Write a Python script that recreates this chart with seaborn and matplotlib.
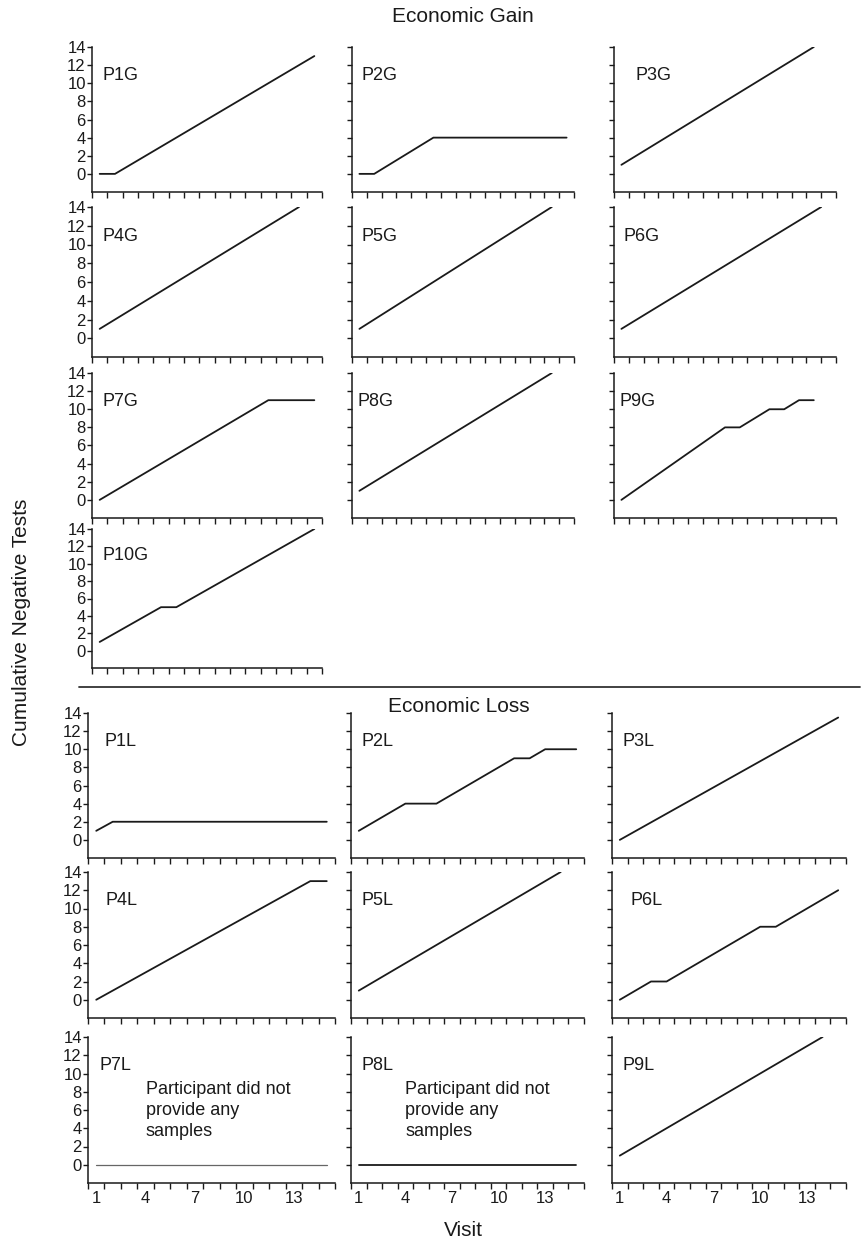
import matplotlib
matplotlib.use("Agg")
import numpy as np
import pandas as pd
import seaborn as sns
import matplotlib.pyplot as plt
from matplotlib.lines import Line2D

sns.set_style("ticks")
plt.rcParams["font.family"] = ["Liberation Sans", "DejaVu Sans"]

# breakpoints of each cumulative curve (visit, cumulative negative tests)
P1G_x, P1G_y = [1, 2, 15], [0, 0, 13]
P2G_x, P2G_y = [1, 2, 6, 15], [0, 0, 4, 4]
P3G_x, P3G_y = [1, 14], [1, 14]
P4G_x, P4G_y = [1, 14], [1, 14]
P5G_x, P5G_y = [1, 14], [1, 14]
P6G_x, P6G_y = [1, 14.5], [1, 14]
P7G_x, P7G_y = [1, 12, 15], [0, 11, 11]
P8G_x, P8G_y = [1, 14], [1, 14]
P9G_x, P9G_y = [1, 8, 9, 11, 12, 13, 14], [0, 8, 8, 10, 10, 11, 11]
P10G_x, P10G_y = [1, 5, 6, 15], [1, 5, 5, 14]

P1L_x, P1L_y = [1, 2, 15], [1, 2, 2]
P2L_x, P2L_y = [1, 4, 6, 11, 12, 13, 15], [1, 4, 4, 9, 9, 10, 10]
P3L_x, P3L_y = [1, 15], [0, 13.5]
P4L_x, P4L_y = [1, 14, 15], [0, 13, 13]
P5L_x, P5L_y = [1, 14], [1, 14]
P6L_x, P6L_y = [1, 3, 4, 10, 11, 15], [0, 2, 2, 8, 8, 12]
P7L_x, P7L_y = [1, 15], [0, 0]
P8L_x, P8L_y = [1, 15], [0, 0]
P9L_x, P9L_y = [1, 14], [1, 14]

gain_names = ["P1G", "P2G", "P3G", "P4G", "P5G", "P6G", "P7G", "P8G", "P9G", "P10G"]
loss_names = ["P1L", "P2L", "P3L", "P4L", "P5L", "P6L", "P7L", "P8L", "P9L"]
no_sample = ["P7L", "P8L"]
x_tick_labels = [1, 4, 7, 10, 13]
y_tick_values = [0, 2, 4, 6, 8, 10, 12, 14]

series = {n: (globals()[n + "_x"], globals()[n + "_y"]) for n in gain_names + loss_names}
rows = []
for name, (xs, ys) in series.items():
    for x, y in zip(xs, ys):
        rows.append({"panel": name, "Visit": x, "Tests": y})
df = pd.DataFrame(rows)

W, H = 863, 1244
fig = plt.figure(figsize=(W / 100, H / 100), dpi=100)


def px_axes(l, r, t, b):
    return fig.add_axes([l / W, 1 - b / H, (r - l) / W, (b - t) / H])


gain_cols = [(92, 322), (352, 574), (614, 836)]
gain_rows = [(47, 192), (207, 357), (373, 518), (529, 668)]
loss_cols = [(88, 335), (351, 584), (612, 846)]
loss_rows = [(713, 858), (872, 1018), (1037, 1183)]
label_frac = {"P3G": 0.095, "P6L": 0.08, "P4L": 0.07, "P1L": 0.065, "P8G": 0.025, "P9G": 0.025}

ink = "#1a1a1a"


def draw_panel(name, box, show_ylab, show_xlab):
    ax = px_axes(box[0], box[1], box[2], box[3])
    sub = df[df.panel == name]
    light = name == "P7L"
    sns.lineplot(data=sub, x="Visit", y="Tests", ax=ax, estimator=None, sort=False,
                 color="#666666" if light else ink, lw=0.9 if light else 1.3)
    ax.set_xlim(0.5, 15.5)
    ax.set_ylim(-2, 14)
    sns.despine(ax=ax)
    for s in ["left", "bottom"]:
        ax.spines[s].set_linewidth(1.1)
        ax.spines[s].set_color(ink)
    ax.set_yticks(y_tick_values)
    ax.set_xticks(x_tick_labels)
    ax.set_xticks(np.arange(0.5, 15.6, 1), minor=True)
    ax.tick_params(axis="x", which="major", length=0, pad=5.5, labelsize=12,
                   labelbottom=show_xlab, labelcolor=ink)
    ax.tick_params(axis="x", which="minor", length=4, width=1, color=ink)
    ax.tick_params(axis="y", length=3.5, width=1, pad=1, labelsize=12,
                   color=ink, labelcolor=ink, labelleft=show_ylab)
    ax.set_xlabel("")
    ax.set_ylabel("")
    frac = label_frac.get(name, 0.045)
    ax.text(0.5 + frac * 15, 10.9, name, fontsize=13, ha="left", va="center", color=ink)
    if name in no_sample:
        ax.text(4.0, 5.95, "Participant did not\nprovide any\nsamples", fontsize=13,
                ha="left", va="center", linespacing=1.3, color=ink)
    return ax


for i, name in enumerate(gain_names):
    r, c = divmod(i, 3)
    cl, cr = gain_cols[c]
    rt, rb = gain_rows[r]
    draw_panel(name, (cl, cr, rt, rb), c == 0, False)

for i, name in enumerate(loss_names):
    r, c = divmod(i, 3)
    cl, cr = loss_cols[c]
    rt, rb = loss_rows[r]
    draw_panel(name, (cl, cr, rt, rb), c == 0, r == 2)

fig.add_artist(Line2D([79 / W, 860 / W], [1 - 686.5 / H, 1 - 686.5 / H],
                      transform=fig.transFigure, color="#333333", lw=1.3))
fig.text(463 / W, 1 - 16 / H, "Economic Gain", fontsize=15, ha="center", va="center", color=ink)
fig.text(459 / W, 1 - 706 / H, "Economic Loss", fontsize=15, ha="center", va="center", color=ink)
fig.text(22 / W, 1 - 622 / H, "Cumulative Negative Tests", fontsize=15, rotation=90,
         ha="center", va="center", color=ink)
fig.text(463 / W, 1 - 1230 / H, "Visit", fontsize=15, ha="center", va="center", color=ink)

fig.savefig("out.png", dpi=100)
